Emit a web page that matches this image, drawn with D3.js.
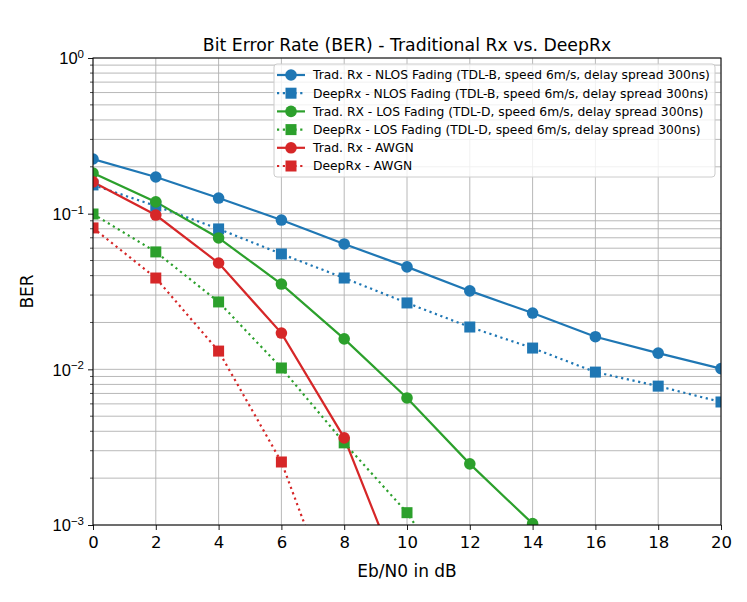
<!DOCTYPE html>
<html><head><meta charset="utf-8">
<script src="https://cdn.jsdelivr.net/npm/d3@7"></script>
<style>body{margin:0;background:#fff}svg{font-family:"DejaVu Sans",sans-serif}</style>
</head><body>
<script>
const ebn0 = [0,2,4,6,8,10,12,14,16,18,20];
const tradNLOS = [0.2245,0.172,0.126,0.091,0.0639,0.0455,0.0319,0.023,0.0162,0.0127,0.0101];
const deepNLOS = [0.153,0.112,0.0798,0.0551,0.0386,0.0267,0.0187,0.0137,0.0096,0.0078,0.00617];
const tradLOS = [0.1825,0.119,0.0698,0.0353,0.0157,0.00655,0.00247,0.00102];
const deepLOS = [0.0995,0.0568,0.0271,0.0102,0.00337,0.0012,0.0003];
const tradAWGN = [0.16,0.098,0.0482,0.0171,0.00363,0.00035];
const deepAWGN = [0.081,0.0386,0.0131,0.00254,0.00021];
const seriesNames = [
 "Trad. Rx - NLOS Fading (TDL-B, speed 6m/s, delay spread 300ns)",
 "DeepRx - NLOS Fading (TDL-B, speed 6m/s, delay spread 300ns)",
 "Trad. RX - LOS Fading (TDL-D, speed 6m/s, delay spread 300ns)",
 "DeepRx - LOS Fading (TDL-D, speed 6m/s, delay spread 300ns)",
 "Trad. Rx - AWGN",
 "DeepRx - AWGN"];
const xTicks = [0,2,4,6,8,10,12,14,16,18,20];
const yTicks = [1e-3,1e-2,1e-1,1];
const yTickExp = ["−3","−2","−1","0"];
const title = "Bit Error Rate (BER) - Traditional Rx vs. DeepRx";
const xLabel = "Eb/N0 in dB";
const yLabel = "BER";

const series = [
 {name:seriesNames[0], vals:tradNLOS, color:"#1f77b4", dotted:false, marker:"circle"},
 {name:seriesNames[1], vals:deepNLOS, color:"#1f77b4", dotted:true, marker:"square"},
 {name:seriesNames[2], vals:tradLOS, color:"#2ca02c", dotted:false, marker:"circle"},
 {name:seriesNames[3], vals:deepLOS, color:"#2ca02c", dotted:true, marker:"square"},
 {name:seriesNames[4], vals:tradAWGN, color:"#d62728", dotted:false, marker:"circle"},
 {name:seriesNames[5], vals:deepAWGN, color:"#d62728", dotted:true, marker:"square"}];

const W=747,H=602;
const m={l:93,r:721,t:58,b:525};
const svg=d3.select("body").append("svg").attr("width",W).attr("height",H);
const x=d3.scaleLinear().domain([0,20]).range([m.l,m.r]);
const y=d3.scaleLog().domain([1e-3,1]).range([m.b,m.t]);

svg.append("defs").append("clipPath").attr("id","clip").append("rect")
 .attr("x",m.l).attr("y",m.t).attr("width",m.r-m.l).attr("height",m.b-m.t);

const minors=[];
for(let e=-3;e<0;e++) for(let k=2;k<=9;k++) minors.push(k*Math.pow(10,e));

const grid=svg.append("g").attr("stroke","#b0b0b0").attr("stroke-width",0.9);
minors.forEach(v=>grid.append("line").attr("x1",m.l).attr("x2",m.r).attr("y1",y(v)).attr("y2",y(v)));
yTicks.forEach(v=>grid.append("line").attr("x1",m.l).attr("x2",m.r).attr("y1",y(v)).attr("y2",y(v)));
xTicks.forEach(v=>grid.append("line").attr("x1",x(v)).attr("x2",x(v)).attr("y1",m.t).attr("y2",m.b));

const plot=svg.append("g").attr("clip-path","url(#clip)");
const line=d3.line().x((d,i)=>x(ebn0[i])).y(d=>y(d));
series.forEach(s=>{
 plot.append("path").attr("d",line(s.vals)).attr("fill","none").attr("stroke",s.color)
  .attr("stroke-width",2.2).attr("stroke-dasharray",s.dotted?"2.2,3.6":null);
});
series.forEach(s=>{
 s.vals.forEach((v,i)=>{
  const cx=x(ebn0[i]),cy=y(v);
  if(s.marker==="circle") plot.append("circle").attr("cx",cx).attr("cy",cy).attr("r",5.8).attr("fill",s.color);
  else plot.append("rect").attr("x",cx-5.5).attr("y",cy-5.5).attr("width",11).attr("height",11).attr("fill",s.color);
 });
});

const xAxis=svg.append("g").attr("transform",`translate(0,${m.b})`)
 .call(d3.axisBottom(x).tickValues(xTicks).tickSize(5).tickPadding(6).tickFormat(d3.format("d")));
xAxis.selectAll("text").attr("font-size",16.5).attr("fill","#000").attr("font-family","DejaVu Sans");
const yAxis=svg.append("g").attr("transform",`translate(${m.l},0)`)
 .call(d3.axisLeft(y).tickValues(yTicks).tickSize(5).tickPadding(5).tickFormat(""));
yAxis.selectAll(".tick").append("text").attr("x",-9).attr("dy","0.35em").attr("text-anchor","end")
 .attr("font-size",16.5).attr("fill","#000")
 .each(function(d,i){
   const t=d3.select(this);
   t.append("tspan").text("10");
   t.append("tspan").attr("dy","-0.55em").attr("font-size",11.5).text(yTickExp[i]);
 });
minors.forEach(v=>svg.append("line").attr("x1",m.l-3).attr("x2",m.l).attr("y1",y(v)).attr("y2",y(v)).attr("stroke","#000").attr("stroke-width",0.7));
svg.selectAll(".domain").remove();
svg.selectAll(".tick line").attr("stroke","#000").attr("stroke-width",0.9);
svg.append("rect").attr("x",m.l).attr("y",m.t).attr("width",m.r-m.l).attr("height",m.b-m.t)
 .attr("fill","none").attr("stroke","#000").attr("stroke-width",1);

svg.append("text").attr("x",(m.l+m.r)/2).attr("y",51).attr("text-anchor","middle").attr("font-size",17.3).text(title);
svg.append("text").attr("x",(m.l+m.r)/2).attr("y",577).attr("text-anchor","middle").attr("font-size",17).text(xLabel);
svg.append("text").attr("transform",`translate(33,${(m.t+m.b)/2}) rotate(-90)`).attr("text-anchor","middle").attr("font-size",17).text(yLabel);

const lg=svg.append("g");
lg.append("rect").attr("x",274).attr("y",64).attr("width",441).attr("height",113).attr("rx",3)
 .attr("fill","rgba(255,255,255,0.8)").attr("stroke","#ccc").attr("stroke-width",1);
series.forEach((s,i)=>{
 const yy=75+i*18.2;
 lg.append("line").attr("x1",277).attr("x2",305).attr("y1",yy).attr("y2",yy).attr("stroke",s.color)
  .attr("stroke-width",2.2).attr("stroke-dasharray",s.dotted?"2.2,3.6":null);
 if(s.marker==="circle") lg.append("circle").attr("cx",291).attr("cy",yy).attr("r",5.8).attr("fill",s.color);
 else lg.append("rect").attr("x",285.5).attr("y",yy-5.5).attr("width",11).attr("height",11).attr("fill",s.color);
 lg.append("text").attr("x",313).attr("y",yy).attr("dy","0.35em").attr("font-size",12.3).text(s.name);
});
</script>
</body></html>
